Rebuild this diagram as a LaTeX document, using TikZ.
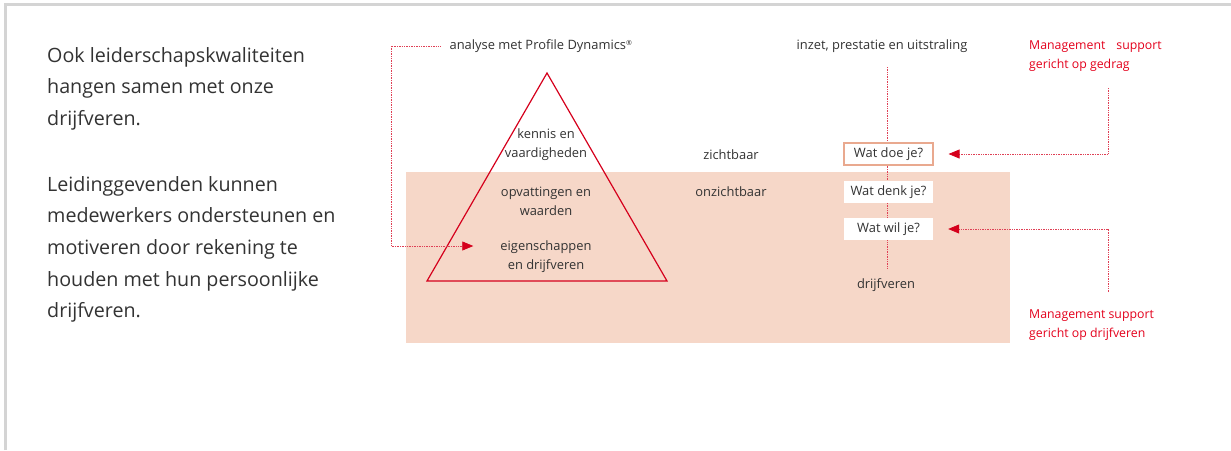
\documentclass[tikz,border=0pt]{standalone}
\usepackage{fontspec}
\setmainfont{Open Sans}
\usetikzlibrary{positioning,arrows.meta}
\definecolor{kred}{HTML}{D5001C}
\definecolor{mred}{HTML}{E3001B}
\definecolor{shade}{HTML}{F6D7C8}
\definecolor{boxln}{HTML}{E9A98F}
\definecolor{txt}{HTML}{333333}
\definecolor{frm}{HTML}{D4D4D4}
\tikzset{
  frame/.style={line width=3pt,frm},
  band/.style={fill=shade,draw=none},
  tri/.style={draw=kred,line width=1.2pt,line join=miter},
  lbl/.style={font=\fontsize{12.9}{15}\selectfont,text=txt,inner sep=1pt},
  tlbl/.style={lbl,align=center,font=\fontsize{12.9}{19}\selectfont},
  body/.style={font=\fontsize{19.7}{31.7}\selectfont,text=txt,align=left,inner sep=0pt},
  mlbl/.style={font=\fontsize{12.3}{19}\selectfont,text=mred,align=left,inner sep=0pt},
  qbox/.style={lbl,fill=white,minimum width=89pt,minimum height=22pt,inner sep=0pt},
  sup/.style={kred!75,line width=0.7pt,dash pattern=on 0.8pt off 0.9pt,
    -{Triangle[length=11pt,width=9pt,kred]}},
  vline/.style={kred!75,line width=0.7pt,dash pattern=on 0.8pt off 0.9pt},
}
\begin{document}
\begin{tikzpicture}[x=1pt,y=-1pt]
  \useasboundingbox (0,0) rectangle (1231,450);
  \draw[frame] (5.5,450) -- (5.5,4.5) -- (1231,4.5);
  % left text
  \node[body,anchor=north west] (para1) at (47,47)
    {Ook leiderschapskwaliteiten\\hangen samen met onze\\drijfveren.};
  \node[body,anchor=north west] (para2) at (47,176)
    {Leidinggevenden kunnen\\medewerkers ondersteunen en\\motiveren door rekening te\\houden met hun persoonlijke\\drijfveren.};
  % invisible part
  \fill[band] (406,172) rectangle (1010,343);
  % pyramid
  \coordinate (top) at (547,73);
  \coordinate (bl) at (427,281);
  \coordinate (br) at (667,281);
  \draw[tri] (top) -- (bl) -- (br) -- cycle;
  \node[tlbl] (kennis) at (546,145) {kennis en\\vaardigheden};
  \node[tlbl] (opvat) at (546,201) {opvattingen en\\waarden};
  \node[tlbl] (eigen) at (546,257) {eigenschappen\\en drijfveren};
  \node[lbl] (analyse) at (541,46) {analyse met Profile Dynamics\textsuperscript{\scriptsize ®}};
  \coordinate (lbend) at (391,46);
  \draw[sup,shorten <=8pt,shorten >=26pt] (analyse.west) -- (lbend) |- (eigen.west |- 0,246);
  % iceberg
  \node[lbl] (zicht) at (731,155) {zichtbaar};
  \node[lbl] (onzicht) at (731,192) {onzichtbaar};
  \node[lbl] (inzet) at (882,46) {inzet, prestatie en uitstraling};
  \node[lbl] (drijf) at (886,285) {drijfveren};
  \coordinate (vtop) at (887,67);
  \coordinate (vbot) at (887,268);
  \draw[vline] (vtop) -- (vbot);
  \node[qbox,draw=boxln,line width=1.1pt] (doe) at (888.5,154) {Wat doe je?};
  \node[qbox] (denk) at (888.5,192) {Wat denk je?};
  \node[qbox] (wil) at (888.5,229) {Wat wil je?};
  % management support
  \node[mlbl,anchor=north west] (mgedrag) at (1029,41) {Management\hspace{11pt}support\\gericht op gedrag};
  \node[mlbl,anchor=north west] (mdrijf) at (1029,310) {Management support\\gericht op drijfveren};
  \coordinate (g1) at (1108,88);
  \coordinate (g2) at (1108,292);
  \draw[sup,shorten >=15pt] (g1) |- (doe.east);
  \draw[sup,shorten >=15pt] (g2) |- (wil.east);
\end{tikzpicture}
\end{document}
